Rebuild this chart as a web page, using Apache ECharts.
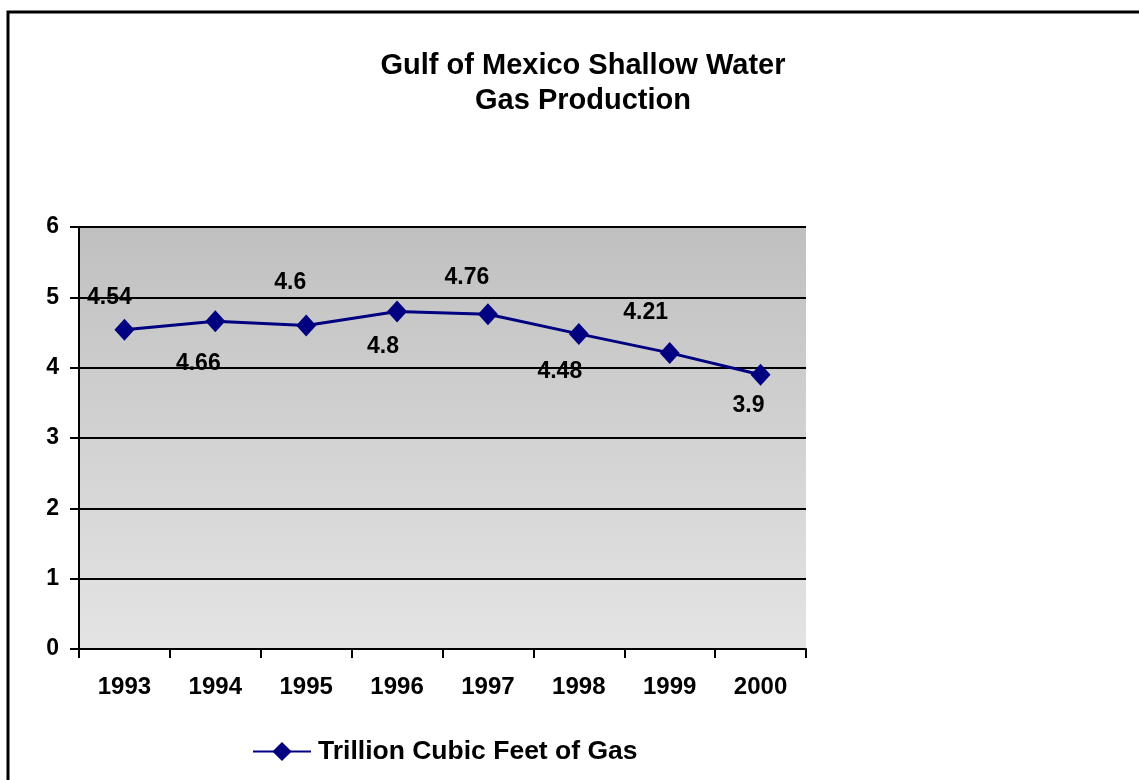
<!DOCTYPE html>
<html>
<head>
<meta charset="utf-8">
<script src="https://cdn.jsdelivr.net/npm/echarts@6/dist/echarts.min.js"></script>
<style>
  html, body { margin: 0; padding: 0; background: #ffffff; }
  #chart { width: 1139px; height: 780px; }
</style>
</head>
<body>
<div id="chart"></div>
<script>
// Annual shallow-water gas output, trillion cubic feet
const years = ['1993', '1994', '1995', '1996', '1997', '1998', '1999', '2000'];
const gasTcf = [4.54, 4.66, 4.6, 4.8, 4.76, 4.48, 4.21, 3.9];
// Value labels alternate above and below the line
const labelOffsets = [[-15, -32], [-17, 42], [-16, -43], [-14, 35], [-21, -37], [-19, 38], [-24, -40], [-12, 31]];

const FONT = '"Liberation Sans", Arial, Helvetica, sans-serif';
const NAVY = '#000080';

const chart = echarts.init(document.getElementById('chart'), null, { renderer: 'canvas' });

chart.setOption({
  animation: false,
  backgroundColor: '#ffffff',
  title: {
    text: 'Gulf of Mexico Shallow Water\nGas Production',
    left: 578,
    top: 43,
    textAlign: 'center',
    textStyle: {
      fontFamily: FONT,
      fontWeight: 'bold',
      fontSize: 29,
      lineHeight: 35,
      color: '#000000'
    }
  },
  graphic: [{
    type: 'rect',
    shape: { x: 8, y: 12, width: 1200, height: 1000 },
    style: { fill: null, stroke: '#000000', lineWidth: 3 },
    silent: true,
    z: 100
  }],
  legend: {
    left: 247,
    top: 733,
    itemWidth: 58,
    itemHeight: 24,
    itemGap: 10,
    data: ['Trillion Cubic Feet of Gas'],
    textStyle: {
      fontFamily: FONT,
      fontWeight: 'bold',
      fontSize: 26.5,
      color: '#000000',
      padding: [0, 0, 0, 2]
    }
  },
  grid: {
    left: 79,
    top: 227,
    right: 333,
    bottom: 131,
    show: true,
    borderWidth: 0,
    backgroundColor: new echarts.graphic.LinearGradient(0, 0, 0, 1, [
      { offset: 0, color: '#c0c0c0' },
      { offset: 1, color: '#e4e4e4' }
    ])
  },
  xAxis: {
    type: 'category',
    data: years,
    boundaryGap: true,
    axisLine: { show: true, lineStyle: { color: '#000000', width: 2 } },
    axisTick: { show: true, length: 9, alignWithLabel: false, lineStyle: { color: '#000000', width: 2 } },
    axisLabel: {
      margin: 26,
      fontFamily: FONT,
      fontWeight: 'bold',
      fontSize: 24,
      color: '#000000'
    },
    splitLine: { show: false }
  },
  yAxis: {
    type: 'value',
    min: 0,
    max: 6,
    interval: 1,
    axisLine: { show: true, lineStyle: { color: '#000000', width: 2 } },
    axisTick: { show: true, length: 9, lineStyle: { color: '#000000', width: 2 } },
    axisLabel: {
      margin: 20,
      padding: [4, 0, 0, 0],
      fontFamily: FONT,
      fontWeight: 'bold',
      fontSize: 23,
      color: '#000000'
    },
    splitLine: { show: true, lineStyle: { color: '#000000', width: 2 } }
  },
  series: [{
    name: 'Trillion Cubic Feet of Gas',
    type: 'line',
    data: gasTcf.map((v, i) => ({
      value: v,
      label: { offset: labelOffsets[i] }
    })),
    symbol: 'diamond',
    symbolSize: [20, 22],
    showAllSymbol: true,
    lineStyle: { color: NAVY, width: 3 },
    itemStyle: { color: NAVY },
    label: {
      show: true,
      position: 'inside',
      formatter: p => String(p.value),
      fontFamily: FONT,
      fontWeight: 'bold',
      fontSize: 23,
      color: '#000000'
    },
    z: 5
  }]
});
</script>
</body>
</html>
